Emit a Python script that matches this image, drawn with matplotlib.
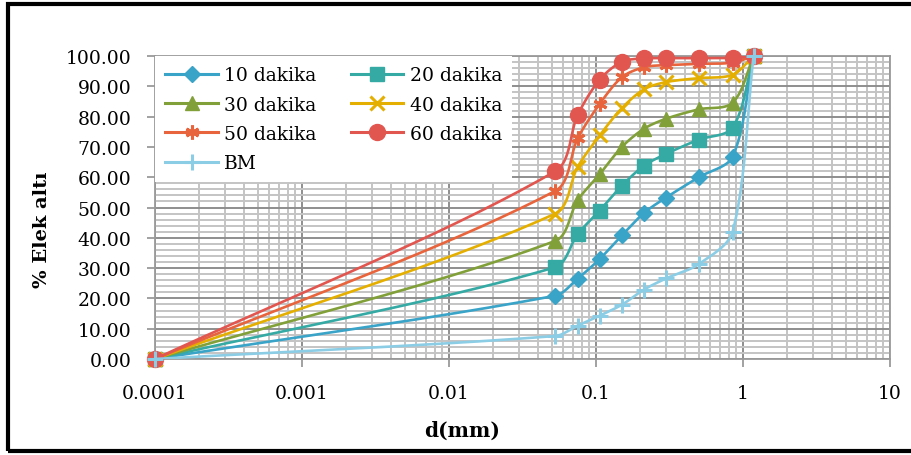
import numpy as np
import matplotlib.pyplot as plt
from matplotlib.patches import Rectangle
from matplotlib.lines import Line2D
from matplotlib.ticker import FixedLocator, NullFormatter, LogLocator

# sieve sizes (mm) and passing percentages
d_mm = [0.0001, 0.053, 0.075, 0.106, 0.15, 0.212, 0.3, 0.5, 0.85, 1.18]

dk10 = [0, 20.9, 26.5, 33.0, 40.8, 48.2, 53.3, 60.0, 66.8, 100]
dk20 = [0, 30.3, 41.2, 49.0, 57.2, 63.8, 67.7, 72.4, 76.4, 100]
dk30 = [0, 39.0, 52.4, 61.0, 70.0, 76.0, 79.3, 82.4, 84.6, 100]
dk40 = [0, 48.0, 63.4, 73.8, 82.8, 89.0, 91.4, 92.7, 93.8, 100]
dk50 = [0, 55.5, 72.8, 84.2, 93.0, 96.3, 97.0, 97.4, 97.8, 100]
dk60 = [0, 62.0, 80.5, 92.2, 98.1, 99.2, 99.3, 99.3, 99.4, 100]
bm = [0, 7.6, 11.0, 14.3, 17.9, 22.9, 26.6, 31.3, 42.0, 100]

labels = ["10 dakika", "20 dakika", "30 dakika", "40 dakika", "50 dakika", "60 dakika", "BM"]
colors = ["#3aa3c8", "#35aaa5", "#82a03a", "#e4af00", "#e8643c", "#e25650", "#8ccde6"]
markers = ["D", "s", "^", "x", (6, 2, 0), "o", "+"]
msizes = [8.5, 9.5, 9.5, 10, 10, 11.5, 11]

xticks = [0.0001, 0.001, 0.01, 0.1, 1, 10]
xticklabels = ["0.0001", "0.001", "0.01", "0.1", "1", "10"]

plt.rcParams['font.family'] = ['DejaVu Serif']


def smooth(xs, ys, n=40, k=0.3):
    # smoothed line through the points (Bezier, tangent from neighbours), in screen-like space
    u = np.log10(np.array(xs, float)) * 147
    v = np.array(ys, float) * 3.03
    P = np.column_stack([u, v])
    m = len(P)
    dirs = []
    for i in range(m):
        a = P[max(i - 1, 0)]
        b = P[min(i + 1, m - 1)]
        dv = b - a
        dirs.append(dv / np.hypot(*dv))
    out = []
    for i in range(m - 1):
        p1, p2 = P[i], P[i + 1]
        L = np.hypot(*(p2 - p1))
        c1 = p1 + dirs[i] * L * k
        c2 = p2 - dirs[i + 1] * L * k
        t = np.linspace(0, 1, n)[:, None]
        B = (1 - t) ** 3 * p1 + 3 * (1 - t) ** 2 * t * c1 + 3 * (1 - t) * t ** 2 * c2 + t ** 3 * p2
        out.append(B)
    B = np.vstack(out)
    return 10 ** (B[:, 0] / 147), B[:, 1] / 3.03


def mew_of(mk):
    return 2.2 if mk in ("x", "+") or isinstance(mk, tuple) else 1


fig = plt.figure(figsize=(9.12, 4.56), dpi=100)
ax = fig.add_axes([155 / 912, 1 - 360 / 456, 735 / 912, 303 / 456])

series = [dk10, dk20, dk30, dk40, dk50, dk60, bm]
for k, ys in enumerate(series):
    sx, sy = smooth(d_mm, ys)
    ax.plot(sx, sy, color=colors[k], lw=1.9, zorder=3 + k * 0.1)
    ax.plot(d_mm, ys, ls='none', marker=markers[k], ms=msizes[k], mew=mew_of(markers[k]),
            mfc=colors[k], mec=colors[k], zorder=3 + k * 0.1, clip_on=False)

ax.set_xscale('log')
ax.set_xlim(0.0001, 10)
ax.set_ylim(0, 100)
ax.xaxis.set_major_locator(FixedLocator(xticks))
ax.set_xticklabels(xticklabels)
ax.xaxis.set_minor_locator(LogLocator(base=10, subs=np.arange(2, 10)))
ax.xaxis.set_minor_formatter(NullFormatter())
ax.set_yticks(np.arange(0, 101, 10))
ax.set_yticks(np.arange(0, 101, 2), minor=True)
ax.set_yticklabels(["%.2f" % v for v in np.arange(0, 101, 10)])

ax.grid(which='major', color='#8e8e8e', lw=1.4, zorder=0)
ax.grid(which='minor', color='#c4c4c4', lw=1.4, zorder=0)
ax.set_axisbelow(True)
for s in ax.spines.values():
    s.set_color('#9a9a9a')
    s.set_linewidth(1.3)
ax.tick_params(which='major', length=6, color='#9a9a9a', width=1.3, labelsize=13.5, pad=11)
ax.tick_params(axis='x', which='major', pad=12)
ax.tick_params(which='minor', length=0)

# legend: line + marker handles, row-wise order in 2 columns
leg_h = [Line2D([], [], color=colors[k], lw=2.2, marker=markers[k], ms=msizes[k],
                mew=mew_of(markers[k]), mfc=colors[k], mec=colors[k]) for k in range(7)]
order = [0, 2, 4, 6, 1, 3, 5]
leg = ax.legend([leg_h[i] for i in order], [labels[i] for i in order], ncol=2,
                loc='upper left', bbox_to_anchor=(0, 1), borderaxespad=0,
                fontsize=13.5, frameon=True, fancybox=False, framealpha=1,
                facecolor='white', edgecolor='none', handlelength=2.8,
                labelspacing=0.6, columnspacing=1.8, handletextpad=0.35,
                borderpad=0.55)
leg.set_zorder(5)

ax.set_xlabel("d(mm)", fontsize=14.5, fontweight='bold')
ax.xaxis.set_label_coords(0.418, -0.2)
fig.text(42 / 912, 1 - 230 / 456, "% Elek altı", rotation=90, ha='center', va='center',
         fontsize=14, fontweight='bold')

# outer black frame
fig.patches.append(Rectangle((8.5 / 912, 4.5 / 456), 1.2, 1 - 9 / 456, transform=fig.transFigure,
                             fill=False, edgecolor='black', lw=3, clip_on=False))

fig.savefig("out.png", dpi=100, facecolor='white')
